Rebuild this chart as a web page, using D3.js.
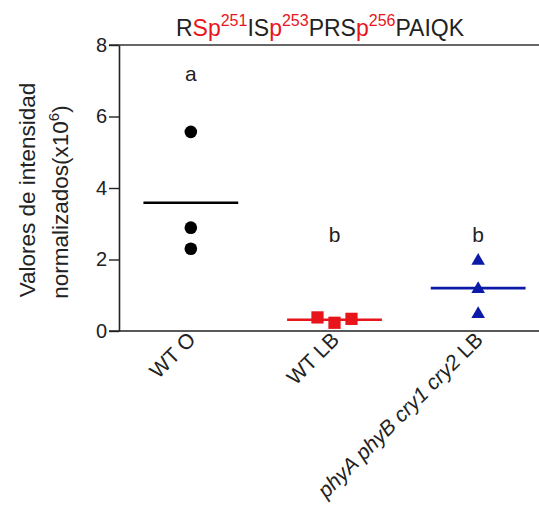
<!DOCTYPE html>
<html>
<head>
<meta charset="utf-8">
<script src="https://cdn.jsdelivr.net/npm/d3@7"></script>
<style>
  body { margin: 0; background: #fff; }
  text { font-family: "Liberation Sans", Arial, sans-serif; }
</style>
</head>
<body>
<div id="chart"></div>
<script>
var chart_width  = 539;
var chart_height = 522;

// Data
var groups    = ["WT O", "WT LB", "phyA phyB cry1 cry2 LB"];
var wtO       = [5.57, 2.89, 2.30];
var wtLB      = [0.38, 0.23, 0.34];
var mutant    = [1.96, 1.17, 0.47];
var letters   = ["a", "b", "b"];
var letterPos = [7.0, 2.5, 2.5];
var yTicks    = [0, 2, 4, 6, 8];

var series = [
  { name: groups[0], values: wtO,    color: "#000000", shape: d3.symbolCircle,   size: 125 },
  { name: groups[1], values: wtLB,   color: "#e8141c", shape: d3.symbolSquare,   size: 150 },
  { name: groups[2], values: mutant, color: "#0c1aa8", shape: d3.symbolTriangle, size: 80 }
];

var y = d3.scaleLinear()
  .domain([0, 8])
  .range([331, 45]);

var x = d3.scalePoint()
  .domain(groups)
  .range([119, 550])
  .padding(0.5);

var svg = d3.select("#chart")
  .append("svg")
  .attr("width", chart_width)
  .attr("height", chart_height);

svg.append("rect")
  .attr("width", chart_width)
  .attr("height", chart_height)
  .style("fill", "#fff");

// Title
var title = svg.append("text")
  .attr("x", 320)
  .attr("y", 36)
  .attr("text-anchor", "middle")
  .style("font-size", "23px");

var titleParts = [
  ["R", "#222"], ["Sp", "#e8141c"], ["251", "#e8141c", true],
  ["IS", "#222"], ["p", "#e8141c"], ["253", "#e8141c", true],
  ["PRS", "#222"], ["p", "#e8141c"], ["256", "#e8141c", true],
  ["PAIQK", "#222"]
];
titleParts.forEach(function (p, i) {
  var t = title.append("tspan").text(p[0]).style("fill", p[1]);
  if (p[2]) {
    t.attr("dy", -10).style("font-size", "16px");
  } else if (i > 0 && titleParts[i - 1][2]) {
    t.attr("dy", 10);
  }
});

// Frame lines (top + x axis)
svg.append("line")
  .attr("x1", 109).attr("x2", chart_width)
  .attr("y1", y(8)).attr("y2", y(8))
  .style("stroke", "#333").style("stroke-width", 1.6);

svg.append("line")
  .attr("x1", 109).attr("x2", chart_width)
  .attr("y1", y(0)).attr("y2", y(0))
  .style("stroke", "#222").style("stroke-width", 1.6);

// Y axis
var yAxis = svg.append("g")
  .attr("transform", "translate(119,0)")
  .call(d3.axisLeft(y).tickValues(yTicks).tickSize(10).tickPadding(2).tickSizeOuter(0));

yAxis.select(".domain").style("stroke", "#222").style("stroke-width", 1.6);
yAxis.selectAll(".tick line").style("stroke", "#222").style("stroke-width", 1.4);
yAxis.selectAll(".tick text")
  .style("font-size", "20px")
  .style("font-family", "'Liberation Sans', Arial, sans-serif")
  .style("fill", "#222");

// Y label
svg.append("text")
  .attr("transform", "translate(35,190) rotate(-90)")
  .attr("text-anchor", "middle")
  .style("font-size", "22.5px")
  .style("fill", "#222")
  .text("Valores de intensidad");

var yl2 = svg.append("text")
  .attr("transform", "translate(68,202) rotate(-90)")
  .attr("text-anchor", "middle")
  .style("font-size", "22.5px")
  .style("fill", "#222");
yl2.append("tspan").text("normalizados(x10");
yl2.append("tspan").text("6").attr("dy", -9).style("font-size", "15px");
yl2.append("tspan").text(")").attr("dy", 9);

// Points with simple horizontal dodge when markers overlap
var dodge = 17;
series.forEach(function (s) {
  var px = s.values.map(function (v) { return y(v); });
  var spread = d3.max(px) - d3.min(px);
  var n = s.values.length;
  var g = svg.append("g");

  // mean line
  var m = d3.mean(s.values);
  var half = x.step() * 0.33;
  g.append("line")
    .attr("x1", x(s.name) - half).attr("x2", x(s.name) + half)
    .attr("y1", y(m)).attr("y2", y(m))
    .style("stroke", s.color).style("stroke-width", 2.6);

  g.selectAll("path")
    .data(s.values)
    .enter()
    .append("path")
    .attr("d", d3.symbol().type(s.shape).size(s.size))
    .attr("transform", function (d, i) {
      var off = spread < 14 ? (i - (n - 1) / 2) * dodge : 0;
      return "translate(" + (x(s.name) + off) + "," + y(d) + ")";
    })
    .style("fill", s.color);
});

// Significance letters
svg.selectAll(".letter")
  .data(letters)
  .enter()
  .append("text")
  .attr("class", "letter")
  .attr("x", function (d, i) { return x(groups[i]); })
  .attr("y", function (d, i) { return y(letterPos[i]); })
  .attr("text-anchor", "middle")
  .style("font-size", "21px")
  .style("fill", "#222")
  .text(function (d) { return d; });

// X labels
svg.selectAll(".xlab")
  .data(groups)
  .enter()
  .append("text")
  .attr("class", "xlab")
  .attr("text-anchor", "end")
  .attr("transform", function (d) {
    return "translate(" + (x(d) + 6) + "," + 341 + ") rotate(-45)";
  })
  .style("font-size", "21px")
  .style("fill", "#222")
  .each(function (d, i) {
    var t = d3.select(this);
    if (i < 2) { t.text(d); return; }
    var words = d.split(" ");
    words.forEach(function (w, j) {
      t.append("tspan")
        .text(w + (j < words.length - 1 ? " " : ""))
        .style("font-style", j < 4 ? "italic" : "normal");
    });
  });
</script>
</body>
</html>
